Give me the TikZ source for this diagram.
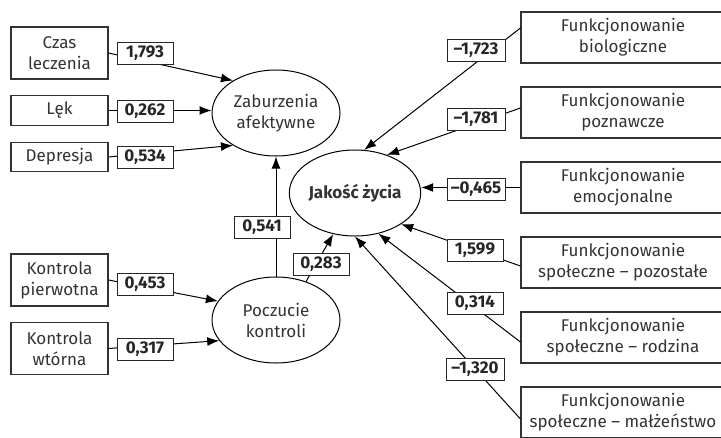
\documentclass[tikz,border=0pt]{standalone}
\usepackage{fontspec}
\setmainfont{Fira Sans}
\usetikzlibrary{arrows.meta,shapes.geometric}

\newcommand\diagfont{\fontsize{17}{21}\selectfont}

\tikzset{
  var/.style={draw=black!80, line width=1.1pt, align=center, text=black!80,
    minimum width=97pt, minimum height=52pt, inner sep=2pt},
  func/.style={var, minimum width=204pt, minimum height=51pt},
  latent/.style={ellipse, draw=black, line width=1pt, align=center, text=black!80,
    minimum width=128pt, minimum height=86pt, inner sep=0pt},
  coef/.style={draw=black!85, fill=white, line width=1pt, font=\diagfont\bfseries,
    text=black!85, minimum width=56pt, minimum height=22pt, inner sep=1pt},
  path/.style={draw=black, line width=1pt, -{Latex[length=12pt,width=9pt]}},
}

\begin{document}
\begin{tikzpicture}[x=1pt, y=-1pt, font=\diagfont]
  \clip (0,0) rectangle (721,437);

  % latent variables
  \node [latent] (zab) at (276,113) {Zaburzenia\\afektywne};
  \node [latent, font=\diagfont\bfseries, minimum width=126pt] (jak) at (355,193) {Jakość życia};
  \node [latent] (pocz) at (276,320) {Poczucie\\kontroli};

  % left side
  \node [var] (czas) at (59.5,53) {Czas\\leczenia};
  \node [var, minimum height=29.5pt] (lek) at (59.5,110.5) {Lęk};
  \node [var, minimum height=29.5pt] (depr) at (59.5,157) {Depresja};
  \node [var] (pierw) at (59.5,280) {Kontrola\\pierwotna};
  \node [var] (wtor) at (59.5,348.5) {Kontrola\\wtórna};

  % right side
  \foreach \n/\t [count=\i from 0] in {bio/biologiczne, pozn/poznawcze, emo/emocjonalne,
      poz/społeczne – pozostałe, rodz/społeczne – rodzina, malz/społeczne – małżeństwo}
    \node [func] (\n) at (623,37.5+75*\i) {Funkcjonowanie\\\t};

  % paths
  \draw [path] (czas.east) -- (zab.143);
  \draw [path] (lek.east) -- (lek.east -| zab.west);
  \draw [path] (depr.east) -- (zab.217);
  \draw [path] (pierw.east) -- (pocz.162);
  \draw [path] (wtor.east) -- (pocz.200);
  \draw [path] (pocz.north) -- (zab.south);
  \draw [path] (pocz.52) -- (jak.242);

  \draw [path] ([yshift=9.5pt]bio.west) -- (jak.78);
  \draw [path] ([yshift=4.5pt]pozn.west) -- (jak.50);
  \draw [path] (emo.west) -- (emo.west -| jak.east);
  \draw [path] ([yshift=-3.5pt]poz.west) -- (jak.-34);
  \draw [path] ([yshift=-4.5pt]rodz.west) -- (jak.-60);
  \draw [path] ([yshift=-6.5pt]malz.west) -- (jak.south);

  % coefficients
  \node [coef] (c-czas) at (145,53) {1,793};
  \node [coef] (c-lek) at (145,111) {0,262};
  \node [coef] (c-depr) at (145,157) {0,534};
  \node [coef] (c-pierw) at (145,284) {0,453};
  \node [coef] (c-wtor) at (145,349.5) {0,317};
  \node [coef] (c-zab) at (262,227) {0,541};
  \node [coef] (c-jak) at (321,264) {0,283};

  \node [coef, minimum width=58pt] (c-bio) at (476,50) {–1,723};
  \node [coef, minimum width=58pt] (c-pozn) at (476,119) {–1,781};
  \node [coef, minimum width=58pt] (c-emo) at (476,189) {–0,465};
  \node [coef] (c-poz) at (475,250) {1,599};
  \node [coef] (c-rodz) at (475,303) {0,314};
  \node [coef, minimum width=58pt] (c-malz) at (475,369.5) {–1,320};
\end{tikzpicture}
\end{document}
